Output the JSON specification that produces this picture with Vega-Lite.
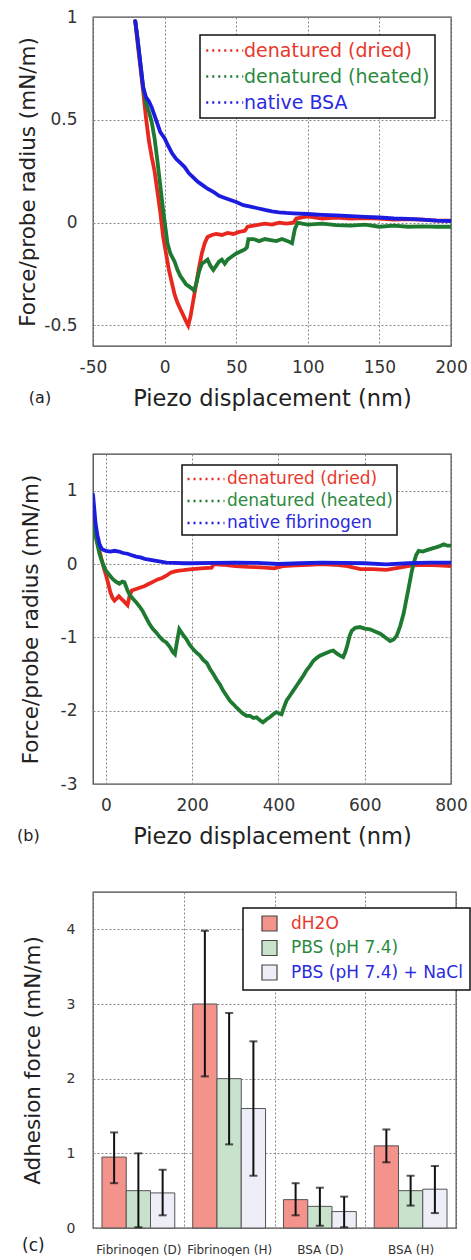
{
  "$schema": "https://vega.github.io/schema/vega-lite/v6.json",
  "padding": {"left": 16, "top": 7, "right": 5, "bottom": 0},
  "spacing": 42,
  "background": "white",
  "config": {
    "font": "DejaVu Sans",
    "view": {"stroke": "#444", "strokeWidth": 1.3},
    "axis": {
      "domain": false,
      "ticks": false,
      "grid": true,
      "gridDash": [2, 2],
      "gridColor": "#888",
      "gridWidth": 1,
      "labelColor": "#333",
      "labelFlush": false,
      "labelOverlap": false,
      "titleColor": "#222",
      "titleFontWeight": "normal"
    },
    "title": {"fontWeight": "normal", "color": "#222"}
  },
  "resolve": {"scale": {"color": "independent", "fill": "independent"}, "legend": {"color": "independent", "fill": "independent"}},
  "datasets": {
    "a": [
      {"s": "denatured (dried)", "x": -20.5, "y": 0.98},
      {"s": "denatured (dried)", "x": -19, "y": 0.88},
      {"s": "denatured (dried)", "x": -17, "y": 0.76},
      {"s": "denatured (dried)", "x": -15, "y": 0.64},
      {"s": "denatured (dried)", "x": -13, "y": 0.51},
      {"s": "denatured (dried)", "x": -11, "y": 0.4},
      {"s": "denatured (dried)", "x": -9, "y": 0.32},
      {"s": "denatured (dried)", "x": -7, "y": 0.25},
      {"s": "denatured (dried)", "x": -5, "y": 0.15},
      {"s": "denatured (dried)", "x": -3, "y": 0.05},
      {"s": "denatured (dried)", "x": -1, "y": -0.07},
      {"s": "denatured (dried)", "x": 1, "y": -0.15},
      {"s": "denatured (dried)", "x": 3, "y": -0.23},
      {"s": "denatured (dried)", "x": 5, "y": -0.29},
      {"s": "denatured (dried)", "x": 7, "y": -0.35},
      {"s": "denatured (dried)", "x": 9, "y": -0.39},
      {"s": "denatured (dried)", "x": 11, "y": -0.42},
      {"s": "denatured (dried)", "x": 13, "y": -0.45},
      {"s": "denatured (dried)", "x": 15, "y": -0.48},
      {"s": "denatured (dried)", "x": 16.5, "y": -0.5},
      {"s": "denatured (dried)", "x": 18, "y": -0.46},
      {"s": "denatured (dried)", "x": 20, "y": -0.38},
      {"s": "denatured (dried)", "x": 22, "y": -0.3},
      {"s": "denatured (dried)", "x": 24, "y": -0.22},
      {"s": "denatured (dried)", "x": 26, "y": -0.15},
      {"s": "denatured (dried)", "x": 28, "y": -0.1},
      {"s": "denatured (dried)", "x": 30, "y": -0.07},
      {"s": "denatured (dried)", "x": 33, "y": -0.06},
      {"s": "denatured (dried)", "x": 36, "y": -0.055},
      {"s": "denatured (dried)", "x": 40, "y": -0.06},
      {"s": "denatured (dried)", "x": 44, "y": -0.05},
      {"s": "denatured (dried)", "x": 48, "y": -0.055},
      {"s": "denatured (dried)", "x": 52, "y": -0.045},
      {"s": "denatured (dried)", "x": 56, "y": -0.04},
      {"s": "denatured (dried)", "x": 58, "y": -0.02},
      {"s": "denatured (dried)", "x": 62, "y": -0.015},
      {"s": "denatured (dried)", "x": 66, "y": -0.01},
      {"s": "denatured (dried)", "x": 70, "y": -0.005},
      {"s": "denatured (dried)", "x": 75, "y": -0.01},
      {"s": "denatured (dried)", "x": 80, "y": 0.0},
      {"s": "denatured (dried)", "x": 85, "y": -0.005},
      {"s": "denatured (dried)", "x": 90, "y": 0.0},
      {"s": "denatured (dried)", "x": 92, "y": 0.02},
      {"s": "denatured (dried)", "x": 96, "y": 0.025},
      {"s": "denatured (dried)", "x": 100, "y": 0.03},
      {"s": "denatured (dried)", "x": 110, "y": 0.02},
      {"s": "denatured (dried)", "x": 120, "y": 0.025},
      {"s": "denatured (dried)", "x": 130, "y": 0.02},
      {"s": "denatured (dried)", "x": 140, "y": 0.022},
      {"s": "denatured (dried)", "x": 150, "y": 0.02},
      {"s": "denatured (dried)", "x": 160, "y": 0.015},
      {"s": "denatured (dried)", "x": 170, "y": 0.017},
      {"s": "denatured (dried)", "x": 180, "y": 0.015},
      {"s": "denatured (dried)", "x": 190, "y": 0.01},
      {"s": "denatured (dried)", "x": 200, "y": 0.01},
      {"s": "denatured (heated)", "x": -20.5, "y": 0.98},
      {"s": "denatured (heated)", "x": -19, "y": 0.9},
      {"s": "denatured (heated)", "x": -17, "y": 0.78},
      {"s": "denatured (heated)", "x": -15, "y": 0.66},
      {"s": "denatured (heated)", "x": -13, "y": 0.58},
      {"s": "denatured (heated)", "x": -11, "y": 0.54},
      {"s": "denatured (heated)", "x": -9, "y": 0.49},
      {"s": "denatured (heated)", "x": -7, "y": 0.41},
      {"s": "denatured (heated)", "x": -5, "y": 0.3},
      {"s": "denatured (heated)", "x": -3, "y": 0.18},
      {"s": "denatured (heated)", "x": -1, "y": 0.06},
      {"s": "denatured (heated)", "x": 0.5, "y": -0.02},
      {"s": "denatured (heated)", "x": 2, "y": -0.1},
      {"s": "denatured (heated)", "x": 4, "y": -0.15},
      {"s": "denatured (heated)", "x": 7, "y": -0.19},
      {"s": "denatured (heated)", "x": 9, "y": -0.23},
      {"s": "denatured (heated)", "x": 11, "y": -0.26},
      {"s": "denatured (heated)", "x": 13, "y": -0.28},
      {"s": "denatured (heated)", "x": 15, "y": -0.3},
      {"s": "denatured (heated)", "x": 17, "y": -0.31},
      {"s": "denatured (heated)", "x": 19, "y": -0.32},
      {"s": "denatured (heated)", "x": 20.5, "y": -0.33},
      {"s": "denatured (heated)", "x": 22, "y": -0.3},
      {"s": "denatured (heated)", "x": 24, "y": -0.24},
      {"s": "denatured (heated)", "x": 26, "y": -0.2},
      {"s": "denatured (heated)", "x": 28, "y": -0.19},
      {"s": "denatured (heated)", "x": 30, "y": -0.18},
      {"s": "denatured (heated)", "x": 32, "y": -0.21},
      {"s": "denatured (heated)", "x": 34, "y": -0.23},
      {"s": "denatured (heated)", "x": 36, "y": -0.21},
      {"s": "denatured (heated)", "x": 38, "y": -0.19},
      {"s": "denatured (heated)", "x": 40, "y": -0.18},
      {"s": "denatured (heated)", "x": 42, "y": -0.2},
      {"s": "denatured (heated)", "x": 44, "y": -0.18},
      {"s": "denatured (heated)", "x": 46, "y": -0.17},
      {"s": "denatured (heated)", "x": 48, "y": -0.16},
      {"s": "denatured (heated)", "x": 50, "y": -0.15},
      {"s": "denatured (heated)", "x": 53, "y": -0.14},
      {"s": "denatured (heated)", "x": 56, "y": -0.13},
      {"s": "denatured (heated)", "x": 57.5, "y": -0.12},
      {"s": "denatured (heated)", "x": 58.5, "y": -0.08},
      {"s": "denatured (heated)", "x": 62, "y": -0.08},
      {"s": "denatured (heated)", "x": 66, "y": -0.09},
      {"s": "denatured (heated)", "x": 70, "y": -0.08},
      {"s": "denatured (heated)", "x": 74, "y": -0.085},
      {"s": "denatured (heated)", "x": 78, "y": -0.09},
      {"s": "denatured (heated)", "x": 82, "y": -0.08},
      {"s": "denatured (heated)", "x": 86, "y": -0.09},
      {"s": "denatured (heated)", "x": 89, "y": -0.1},
      {"s": "denatured (heated)", "x": 91, "y": -0.03},
      {"s": "denatured (heated)", "x": 93, "y": 0.0},
      {"s": "denatured (heated)", "x": 96, "y": -0.005},
      {"s": "denatured (heated)", "x": 100, "y": -0.01},
      {"s": "denatured (heated)", "x": 110, "y": -0.005},
      {"s": "denatured (heated)", "x": 120, "y": -0.012},
      {"s": "denatured (heated)", "x": 130, "y": -0.015},
      {"s": "denatured (heated)", "x": 140, "y": -0.01},
      {"s": "denatured (heated)", "x": 150, "y": -0.02},
      {"s": "denatured (heated)", "x": 160, "y": -0.015},
      {"s": "denatured (heated)", "x": 170, "y": -0.02},
      {"s": "denatured (heated)", "x": 180, "y": -0.018},
      {"s": "denatured (heated)", "x": 190, "y": -0.02},
      {"s": "denatured (heated)", "x": 200, "y": -0.02},
      {"s": "native BSA", "x": -20.5, "y": 0.98},
      {"s": "native BSA", "x": -19, "y": 0.9},
      {"s": "native BSA", "x": -17, "y": 0.78},
      {"s": "native BSA", "x": -15, "y": 0.66},
      {"s": "native BSA", "x": -13, "y": 0.61},
      {"s": "native BSA", "x": -11, "y": 0.59},
      {"s": "native BSA", "x": -9, "y": 0.56},
      {"s": "native BSA", "x": -7, "y": 0.52},
      {"s": "native BSA", "x": -5, "y": 0.48},
      {"s": "native BSA", "x": -3, "y": 0.44},
      {"s": "native BSA", "x": -1, "y": 0.42},
      {"s": "native BSA", "x": 0, "y": 0.41},
      {"s": "native BSA", "x": 2, "y": 0.38},
      {"s": "native BSA", "x": 5, "y": 0.34},
      {"s": "native BSA", "x": 8, "y": 0.31},
      {"s": "native BSA", "x": 11, "y": 0.29},
      {"s": "native BSA", "x": 14, "y": 0.27},
      {"s": "native BSA", "x": 17, "y": 0.24},
      {"s": "native BSA", "x": 20, "y": 0.22},
      {"s": "native BSA", "x": 23, "y": 0.2},
      {"s": "native BSA", "x": 26, "y": 0.185},
      {"s": "native BSA", "x": 30, "y": 0.165},
      {"s": "native BSA", "x": 34, "y": 0.15},
      {"s": "native BSA", "x": 38, "y": 0.13},
      {"s": "native BSA", "x": 42, "y": 0.12},
      {"s": "native BSA", "x": 46, "y": 0.11},
      {"s": "native BSA", "x": 50, "y": 0.1},
      {"s": "native BSA", "x": 55, "y": 0.085},
      {"s": "native BSA", "x": 60, "y": 0.078},
      {"s": "native BSA", "x": 65, "y": 0.07},
      {"s": "native BSA", "x": 70, "y": 0.062},
      {"s": "native BSA", "x": 75, "y": 0.055},
      {"s": "native BSA", "x": 80, "y": 0.05},
      {"s": "native BSA", "x": 85, "y": 0.047},
      {"s": "native BSA", "x": 90, "y": 0.045},
      {"s": "native BSA", "x": 100, "y": 0.042},
      {"s": "native BSA", "x": 110, "y": 0.038},
      {"s": "native BSA", "x": 120, "y": 0.035},
      {"s": "native BSA", "x": 130, "y": 0.032},
      {"s": "native BSA", "x": 140, "y": 0.028},
      {"s": "native BSA", "x": 150, "y": 0.025},
      {"s": "native BSA", "x": 160, "y": 0.02},
      {"s": "native BSA", "x": 170, "y": 0.018},
      {"s": "native BSA", "x": 180, "y": 0.015},
      {"s": "native BSA", "x": 190, "y": 0.01},
      {"s": "native BSA", "x": 200, "y": 0.008}
    ],
    "b": [
      {"s": "denatured (dried)", "x": -30, "y": 0.72},
      {"s": "denatured (dried)", "x": -25, "y": 0.5},
      {"s": "denatured (dried)", "x": -20, "y": 0.32},
      {"s": "denatured (dried)", "x": -15, "y": 0.18},
      {"s": "denatured (dried)", "x": -10, "y": 0.06},
      {"s": "denatured (dried)", "x": -5, "y": -0.05},
      {"s": "denatured (dried)", "x": 0, "y": -0.15},
      {"s": "denatured (dried)", "x": 5, "y": -0.26},
      {"s": "denatured (dried)", "x": 10, "y": -0.38},
      {"s": "denatured (dried)", "x": 15, "y": -0.46},
      {"s": "denatured (dried)", "x": 20, "y": -0.5},
      {"s": "denatured (dried)", "x": 25, "y": -0.47},
      {"s": "denatured (dried)", "x": 30, "y": -0.44},
      {"s": "denatured (dried)", "x": 35, "y": -0.47},
      {"s": "denatured (dried)", "x": 40, "y": -0.5},
      {"s": "denatured (dried)", "x": 45, "y": -0.53},
      {"s": "denatured (dried)", "x": 50, "y": -0.56},
      {"s": "denatured (dried)", "x": 55, "y": -0.43},
      {"s": "denatured (dried)", "x": 60, "y": -0.36},
      {"s": "denatured (dried)", "x": 70, "y": -0.34},
      {"s": "denatured (dried)", "x": 80, "y": -0.32},
      {"s": "denatured (dried)", "x": 90, "y": -0.3},
      {"s": "denatured (dried)", "x": 100, "y": -0.27},
      {"s": "denatured (dried)", "x": 110, "y": -0.24},
      {"s": "denatured (dried)", "x": 120, "y": -0.21},
      {"s": "denatured (dried)", "x": 130, "y": -0.19},
      {"s": "denatured (dried)", "x": 140, "y": -0.16},
      {"s": "denatured (dried)", "x": 150, "y": -0.12},
      {"s": "denatured (dried)", "x": 160, "y": -0.1},
      {"s": "denatured (dried)", "x": 170, "y": -0.09},
      {"s": "denatured (dried)", "x": 180, "y": -0.085},
      {"s": "denatured (dried)", "x": 200, "y": -0.07},
      {"s": "denatured (dried)", "x": 220, "y": -0.06},
      {"s": "denatured (dried)", "x": 245, "y": -0.05},
      {"s": "denatured (dried)", "x": 250, "y": 0.0},
      {"s": "denatured (dried)", "x": 270, "y": -0.01},
      {"s": "denatured (dried)", "x": 300, "y": -0.03},
      {"s": "denatured (dried)", "x": 330, "y": -0.04},
      {"s": "denatured (dried)", "x": 360, "y": -0.045},
      {"s": "denatured (dried)", "x": 390, "y": -0.06},
      {"s": "denatured (dried)", "x": 410, "y": -0.03},
      {"s": "denatured (dried)", "x": 440, "y": -0.02},
      {"s": "denatured (dried)", "x": 470, "y": -0.01},
      {"s": "denatured (dried)", "x": 500, "y": 0.0},
      {"s": "denatured (dried)", "x": 530, "y": -0.01},
      {"s": "denatured (dried)", "x": 560, "y": -0.03},
      {"s": "denatured (dried)", "x": 590, "y": -0.07},
      {"s": "denatured (dried)", "x": 620, "y": -0.07},
      {"s": "denatured (dried)", "x": 650, "y": -0.08},
      {"s": "denatured (dried)", "x": 680, "y": -0.05},
      {"s": "denatured (dried)", "x": 710, "y": -0.02},
      {"s": "denatured (dried)", "x": 740, "y": -0.01},
      {"s": "denatured (dried)", "x": 770, "y": -0.02},
      {"s": "denatured (dried)", "x": 800, "y": -0.03},
      {"s": "denatured (heated)", "x": -30, "y": 0.55},
      {"s": "denatured (heated)", "x": -25, "y": 0.4},
      {"s": "denatured (heated)", "x": -20, "y": 0.27},
      {"s": "denatured (heated)", "x": -15, "y": 0.14},
      {"s": "denatured (heated)", "x": -10, "y": 0.05},
      {"s": "denatured (heated)", "x": -5, "y": -0.03},
      {"s": "denatured (heated)", "x": 0, "y": -0.09},
      {"s": "denatured (heated)", "x": 8, "y": -0.15},
      {"s": "denatured (heated)", "x": 15, "y": -0.2},
      {"s": "denatured (heated)", "x": 23, "y": -0.24},
      {"s": "denatured (heated)", "x": 31, "y": -0.27},
      {"s": "denatured (heated)", "x": 38, "y": -0.24},
      {"s": "denatured (heated)", "x": 43, "y": -0.25},
      {"s": "denatured (heated)", "x": 50, "y": -0.36},
      {"s": "denatured (heated)", "x": 55, "y": -0.42},
      {"s": "denatured (heated)", "x": 62, "y": -0.47},
      {"s": "denatured (heated)", "x": 70, "y": -0.52},
      {"s": "denatured (heated)", "x": 78, "y": -0.58},
      {"s": "denatured (heated)", "x": 85, "y": -0.64},
      {"s": "denatured (heated)", "x": 93, "y": -0.73},
      {"s": "denatured (heated)", "x": 101, "y": -0.82},
      {"s": "denatured (heated)", "x": 108, "y": -0.88},
      {"s": "denatured (heated)", "x": 116, "y": -0.93},
      {"s": "denatured (heated)", "x": 124, "y": -0.99},
      {"s": "denatured (heated)", "x": 132, "y": -1.04},
      {"s": "denatured (heated)", "x": 140, "y": -1.07},
      {"s": "denatured (heated)", "x": 148, "y": -1.13},
      {"s": "denatured (heated)", "x": 155, "y": -1.2},
      {"s": "denatured (heated)", "x": 160, "y": -1.23},
      {"s": "denatured (heated)", "x": 165, "y": -1.05},
      {"s": "denatured (heated)", "x": 170, "y": -0.89},
      {"s": "denatured (heated)", "x": 178, "y": -0.96},
      {"s": "denatured (heated)", "x": 186, "y": -1.02},
      {"s": "denatured (heated)", "x": 194, "y": -1.1},
      {"s": "denatured (heated)", "x": 202, "y": -1.16},
      {"s": "denatured (heated)", "x": 210, "y": -1.21},
      {"s": "denatured (heated)", "x": 218, "y": -1.25},
      {"s": "denatured (heated)", "x": 226, "y": -1.31},
      {"s": "denatured (heated)", "x": 234, "y": -1.35},
      {"s": "denatured (heated)", "x": 242, "y": -1.44},
      {"s": "denatured (heated)", "x": 250, "y": -1.51},
      {"s": "denatured (heated)", "x": 258, "y": -1.59},
      {"s": "denatured (heated)", "x": 264, "y": -1.64},
      {"s": "denatured (heated)", "x": 272, "y": -1.73},
      {"s": "denatured (heated)", "x": 280, "y": -1.8},
      {"s": "denatured (heated)", "x": 288, "y": -1.87},
      {"s": "denatured (heated)", "x": 295, "y": -1.91},
      {"s": "denatured (heated)", "x": 303, "y": -1.96},
      {"s": "denatured (heated)", "x": 310, "y": -2.0},
      {"s": "denatured (heated)", "x": 318, "y": -2.04},
      {"s": "denatured (heated)", "x": 326, "y": -2.07},
      {"s": "denatured (heated)", "x": 334, "y": -2.07},
      {"s": "denatured (heated)", "x": 342, "y": -2.1},
      {"s": "denatured (heated)", "x": 349, "y": -2.09},
      {"s": "denatured (heated)", "x": 357, "y": -2.13},
      {"s": "denatured (heated)", "x": 364, "y": -2.16},
      {"s": "denatured (heated)", "x": 372, "y": -2.12},
      {"s": "denatured (heated)", "x": 380, "y": -2.09},
      {"s": "denatured (heated)", "x": 388, "y": -2.05},
      {"s": "denatured (heated)", "x": 395, "y": -2.02},
      {"s": "denatured (heated)", "x": 402, "y": -2.04},
      {"s": "denatured (heated)", "x": 407, "y": -2.05},
      {"s": "denatured (heated)", "x": 413, "y": -1.95},
      {"s": "denatured (heated)", "x": 419, "y": -1.86},
      {"s": "denatured (heated)", "x": 426, "y": -1.8},
      {"s": "denatured (heated)", "x": 434, "y": -1.73},
      {"s": "denatured (heated)", "x": 442, "y": -1.66},
      {"s": "denatured (heated)", "x": 450, "y": -1.59},
      {"s": "denatured (heated)", "x": 458, "y": -1.52},
      {"s": "denatured (heated)", "x": 465, "y": -1.45},
      {"s": "denatured (heated)", "x": 473, "y": -1.39},
      {"s": "denatured (heated)", "x": 481, "y": -1.32},
      {"s": "denatured (heated)", "x": 489, "y": -1.28},
      {"s": "denatured (heated)", "x": 496, "y": -1.25},
      {"s": "denatured (heated)", "x": 504, "y": -1.23},
      {"s": "denatured (heated)", "x": 512, "y": -1.21},
      {"s": "denatured (heated)", "x": 520, "y": -1.19},
      {"s": "denatured (heated)", "x": 527, "y": -1.18},
      {"s": "denatured (heated)", "x": 535, "y": -1.22},
      {"s": "denatured (heated)", "x": 543, "y": -1.25},
      {"s": "denatured (heated)", "x": 550, "y": -1.27},
      {"s": "denatured (heated)", "x": 555, "y": -1.2},
      {"s": "denatured (heated)", "x": 560, "y": -1.1},
      {"s": "denatured (heated)", "x": 565, "y": -0.98},
      {"s": "denatured (heated)", "x": 570, "y": -0.91},
      {"s": "denatured (heated)", "x": 578, "y": -0.87},
      {"s": "denatured (heated)", "x": 589, "y": -0.86},
      {"s": "denatured (heated)", "x": 600, "y": -0.88},
      {"s": "denatured (heated)", "x": 612, "y": -0.89},
      {"s": "denatured (heated)", "x": 624, "y": -0.92},
      {"s": "denatured (heated)", "x": 636, "y": -0.95},
      {"s": "denatured (heated)", "x": 647, "y": -1.0},
      {"s": "denatured (heated)", "x": 659, "y": -1.05},
      {"s": "denatured (heated)", "x": 667, "y": -1.03},
      {"s": "denatured (heated)", "x": 674, "y": -0.98},
      {"s": "denatured (heated)", "x": 682, "y": -0.85},
      {"s": "denatured (heated)", "x": 690, "y": -0.68},
      {"s": "denatured (heated)", "x": 696, "y": -0.5},
      {"s": "denatured (heated)", "x": 702, "y": -0.32},
      {"s": "denatured (heated)", "x": 708, "y": -0.13},
      {"s": "denatured (heated)", "x": 713, "y": 0.0},
      {"s": "denatured (heated)", "x": 719, "y": 0.12},
      {"s": "denatured (heated)", "x": 725, "y": 0.18},
      {"s": "denatured (heated)", "x": 735, "y": 0.17},
      {"s": "denatured (heated)", "x": 744, "y": 0.19},
      {"s": "denatured (heated)", "x": 755, "y": 0.21},
      {"s": "denatured (heated)", "x": 767, "y": 0.23},
      {"s": "denatured (heated)", "x": 776, "y": 0.25},
      {"s": "denatured (heated)", "x": 783, "y": 0.27},
      {"s": "denatured (heated)", "x": 792, "y": 0.25},
      {"s": "denatured (heated)", "x": 800, "y": 0.25},
      {"s": "native fibrinogen", "x": -30, "y": 0.95},
      {"s": "native fibrinogen", "x": -27, "y": 0.75},
      {"s": "native fibrinogen", "x": -24, "y": 0.55},
      {"s": "native fibrinogen", "x": -20, "y": 0.4},
      {"s": "native fibrinogen", "x": -15, "y": 0.27},
      {"s": "native fibrinogen", "x": -10, "y": 0.21},
      {"s": "native fibrinogen", "x": -5, "y": 0.19},
      {"s": "native fibrinogen", "x": 0, "y": 0.18},
      {"s": "native fibrinogen", "x": 10, "y": 0.17},
      {"s": "native fibrinogen", "x": 20, "y": 0.18},
      {"s": "native fibrinogen", "x": 30, "y": 0.17},
      {"s": "native fibrinogen", "x": 40, "y": 0.15},
      {"s": "native fibrinogen", "x": 50, "y": 0.14},
      {"s": "native fibrinogen", "x": 60, "y": 0.12},
      {"s": "native fibrinogen", "x": 70, "y": 0.1},
      {"s": "native fibrinogen", "x": 80, "y": 0.09},
      {"s": "native fibrinogen", "x": 90, "y": 0.07},
      {"s": "native fibrinogen", "x": 100, "y": 0.06},
      {"s": "native fibrinogen", "x": 120, "y": 0.04},
      {"s": "native fibrinogen", "x": 140, "y": 0.02},
      {"s": "native fibrinogen", "x": 160, "y": 0.015},
      {"s": "native fibrinogen", "x": 180, "y": 0.01},
      {"s": "native fibrinogen", "x": 200, "y": 0.01},
      {"s": "native fibrinogen", "x": 250, "y": 0.015},
      {"s": "native fibrinogen", "x": 300, "y": 0.02},
      {"s": "native fibrinogen", "x": 350, "y": 0.015},
      {"s": "native fibrinogen", "x": 400, "y": 0.0},
      {"s": "native fibrinogen", "x": 450, "y": 0.01},
      {"s": "native fibrinogen", "x": 500, "y": 0.02},
      {"s": "native fibrinogen", "x": 550, "y": 0.015},
      {"s": "native fibrinogen", "x": 600, "y": 0.01},
      {"s": "native fibrinogen", "x": 650, "y": -0.005},
      {"s": "native fibrinogen", "x": 700, "y": 0.01},
      {"s": "native fibrinogen", "x": 750, "y": 0.02},
      {"s": "native fibrinogen", "x": 800, "y": 0.02}
    ],
    "c": [
      {"g": "Fibrinogen (D)", "c": "dH2O", "v": 0.95, "lo": 0.6, "hi": 1.28},
      {"g": "Fibrinogen (D)", "c": "PBS (pH 7.4)", "v": 0.5, "lo": 0.01, "hi": 1.0},
      {"g": "Fibrinogen (D)", "c": "PBS (pH 7.4) + NaCl", "v": 0.47, "lo": 0.17, "hi": 0.78},
      {"g": "Fibrinogen (H)", "c": "dH2O", "v": 3.0, "lo": 2.03, "hi": 3.98},
      {"g": "Fibrinogen (H)", "c": "PBS (pH 7.4)", "v": 2.0, "lo": 1.12, "hi": 2.88},
      {"g": "Fibrinogen (H)", "c": "PBS (pH 7.4) + NaCl", "v": 1.6, "lo": 0.7, "hi": 2.5},
      {"g": "BSA (D)", "c": "dH2O", "v": 0.38, "lo": 0.17, "hi": 0.6},
      {"g": "BSA (D)", "c": "PBS (pH 7.4)", "v": 0.29, "lo": 0.03, "hi": 0.54},
      {"g": "BSA (D)", "c": "PBS (pH 7.4) + NaCl", "v": 0.22, "lo": 0.01, "hi": 0.42},
      {"g": "BSA (H)", "c": "dH2O", "v": 1.1, "lo": 0.88, "hi": 1.32},
      {"g": "BSA (H)", "c": "PBS (pH 7.4)", "v": 0.5, "lo": 0.3, "hi": 0.7},
      {"g": "BSA (H)", "c": "PBS (pH 7.4) + NaCl", "v": 0.52, "lo": 0.2, "hi": 0.83}
    ]
  },
  "vconcat": [
    {
      "width": 358,
      "height": 329,
      "data": {"name": "a"},
      "title": {"text": "(a)", "orient": "bottom", "anchor": "start", "frame": "bounds", "fontSize": 16, "offset": -20, "dx": 11},
      "mark": {"type": "line", "strokeWidth": 3.8, "clip": true, "strokeCap": "round"},
      "encoding": {
        "x": {"field": "x", "type": "quantitative", "scale": {"domain": [-50, 200], "nice": false, "zero": false},
          "axis": {"values": [-50, 0, 50, 100, 150, 200], "labelExpr": "'' + datum.value", "title": "Piezo displacement (nm)", "labelFontSize": 17, "labelPadding": 13, "titleFontSize": 22.5, "titlePadding": 12}},
        "y": {"field": "y", "type": "quantitative", "scale": {"domain": [-0.6, 1], "nice": false, "zero": false},
          "axis": {"values": [-0.5, 0, 0.5, 1], "labelExpr": "'' + datum.value", "title": "Force/probe radius (mN/m)", "labelFontSize": 17, "labelPadding": 16, "titleFontSize": 21.5, "titlePadding": 4}},
        "color": {"field": "s", "type": "nominal",
          "scale": {"domain": ["denatured (dried)", "denatured (heated)", "native BSA"], "range": ["#e8281e", "#1d7a30", "#1c1ce0"]},
          "legend": {"orient": "none", "legendX": 107, "legendY": 18, "title": null, "symbolType": "M-1,0H3", "symbolSize": 342, "symbolStrokeWidth": 2.5, "symbolDash": [2, 4], "labelFontSize": 19, "labelOffset": 18, "labelLimit": 400, "padding": 5, "rowPadding": 5, "strokeColor": "#111", "fillColor": "white",
            "encode": {"legend": {"update": {"strokeWidth": {"value": 1.5}}}, "labels": {"update": {"fill": {"signal": "datum.value === 'denatured (dried)' ? '#e8382c' : datum.value === 'denatured (heated)' ? '#2a8a3e' : '#2a2ae0'"}}}}}}
      }
    },
    {
      "width": 358,
      "height": 330,
      "data": {"name": "b"},
      "title": {"text": "(b)", "orient": "bottom", "anchor": "start", "frame": "bounds", "fontSize": 16, "offset": -20, "dx": -3},
      "mark": {"type": "line", "strokeWidth": 3.8, "clip": true, "strokeCap": "round"},
      "encoding": {
        "x": {"field": "x", "type": "quantitative", "scale": {"domain": [-30, 800], "nice": false, "zero": false},
          "axis": {"values": [0, 200, 400, 600, 800], "labelExpr": "'' + datum.value", "title": "Piezo displacement (nm)", "labelFontSize": 17, "labelPadding": 13, "titleFontSize": 22.5, "titlePadding": 12}},
        "y": {"field": "y", "type": "quantitative", "scale": {"domain": [-3, 1.5], "nice": false, "zero": false},
          "axis": {"values": [-3, -2, -1, 0, 1], "labelExpr": "'' + datum.value", "title": "Force/probe radius (mN/m)", "labelFontSize": 17, "labelPadding": 16, "titleFontSize": 21.5, "titlePadding": 18}},
        "color": {"field": "s", "type": "nominal",
          "scale": {"domain": ["denatured (dried)", "denatured (heated)", "native fibrinogen"], "range": ["#e8281e", "#1d7a30", "#1c1ce0"]},
          "legend": {"orient": "none", "legendX": 89, "legendY": 11, "title": null, "symbolType": "M-1,0H3.35", "symbolSize": 289, "symbolStrokeWidth": 2.5, "symbolDash": [2, 4], "labelFontSize": 17, "labelOffset": 21, "labelLimit": 400, "padding": 4, "rowPadding": 4, "strokeColor": "#111", "fillColor": "white",
            "encode": {"legend": {"update": {"strokeWidth": {"value": 1.5}}}, "labels": {"update": {"fill": {"signal": "datum.value === 'denatured (dried)' ? '#e8382c' : datum.value === 'denatured (heated)' ? '#2a8a3e' : '#2a2ae0'"}}}}}}
      }
    },
    {
      "width": 363,
      "height": 336,
      "data": {"name": "c"},
      "title": {"text": "(c)", "orient": "bottom", "anchor": "start", "frame": "bounds", "fontSize": 17, "offset": -17, "dx": 0},
      "encoding": {
        "x": {"field": "g", "type": "nominal", "sort": ["Fibrinogen (D)", "Fibrinogen (H)", "BSA (D)", "BSA (H)"],
          "scale": {"paddingInner": 0, "paddingOuter": 0},
          "axis": {"title": null, "labelAngle": 0, "labelFontSize": 12, "labelPadding": 16, "tickBand": "extent"}},
        "xOffset": {"field": "c", "type": "nominal", "sort": ["dH2O", "PBS (pH 7.4)", "PBS (pH 7.4) + NaCl"], "scale": {"paddingInner": 0, "paddingOuter": 0.37}}
      },
      "layer": [
        {
          "mark": {"type": "bar", "stroke": "#555", "strokeWidth": 1},
          "encoding": {
            "y": {"field": "v", "type": "quantitative", "scale": {"domain": [0, 4.5], "nice": false},
              "axis": {"values": [0, 1, 2, 3, 4], "labelExpr": "'' + datum.value", "title": "Adhesion force (mN/m)", "labelFontSize": 14, "labelPadding": 18, "titleFontSize": 21.5, "titlePadding": 22}},
            "fill": {"field": "c", "type": "nominal",
              "scale": {"domain": ["dH2O", "PBS (pH 7.4)", "PBS (pH 7.4) + NaCl"], "range": ["#f4928c", "#c8e2cc", "#eeeef8"]},
              "legend": {"orient": "none", "legendX": 150, "legendY": 16, "title": null, "symbolType": "square", "symbolSize": 225, "symbolStrokeColor": "#444", "symbolStrokeWidth": 1.2, "symbolOffset": 11, "labelFontSize": 17, "labelOffset": 13, "labelLimit": 400, "padding": 7, "rowPadding": 3.5, "strokeColor": "#111", "fillColor": "white",
                "encode": {"legend": {"update": {"strokeWidth": {"value": 1.5}}}, "labels": {"update": {"fill": {"signal": "datum.value === 'dH2O' ? '#e8382c' : datum.value === 'PBS (pH 7.4)' ? '#2a8a3e' : '#2a2ae0'"}}}}}}
          }
        },
        {
          "mark": {"type": "rule", "color": "#111", "strokeWidth": 2},
          "encoding": {
            "y": {"field": "lo", "type": "quantitative"},
            "y2": {"field": "hi"}
          }
        },
        {
          "mark": {"type": "tick", "color": "#111", "thickness": 2, "size": 8},
          "encoding": {"y": {"field": "lo", "type": "quantitative"}}
        },
        {
          "mark": {"type": "tick", "color": "#111", "thickness": 2, "size": 8},
          "encoding": {"y": {"field": "hi", "type": "quantitative"}}
        }
      ]
    }
  ]
}
